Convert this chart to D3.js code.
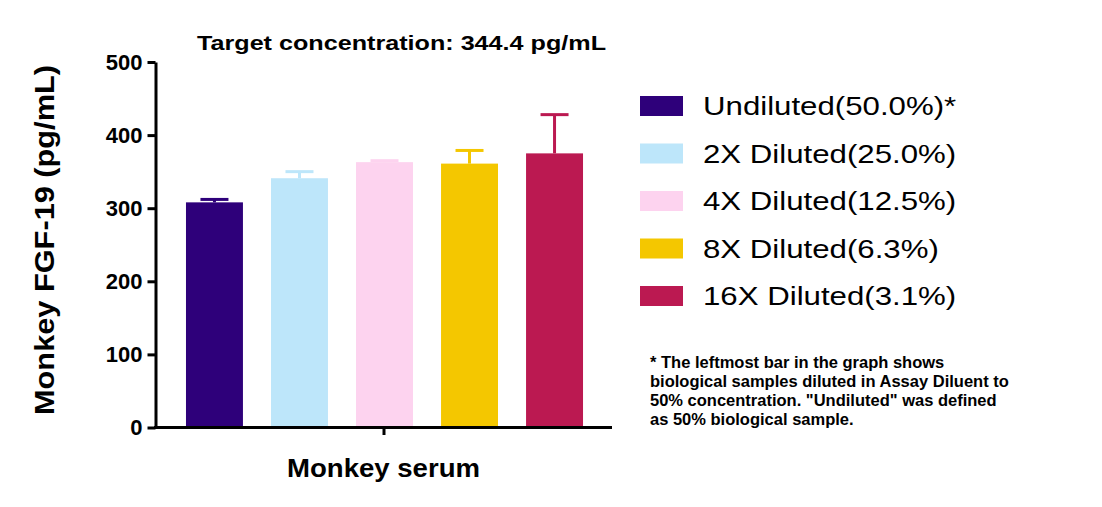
<!DOCTYPE html><html><head><script src="https://cdn.jsdelivr.net/npm/d3@7"></script>
<style>body{margin:0;background:#fff}text{font-family:Arial,"Liberation Sans",sans-serif}</style></head><body>
<svg id="c" width="1102" height="507"></svg>
<script>
const categories=["Undiluted(50.0%)*","2X Diluted(25.0%)","4X Diluted(12.5%)","8X Diluted(6.3%)","16X Diluted(3.1%)"];
const values=[308,341,363,361,375];
const errors=[4,9,2,18,53];
const colors=["#2e007a","#bde6fa","#fdd3ef","#f4c700","#bb1951"];
const yTicks=[0,100,200,300,400,500];
const svg=d3.select("#c");
const y=d3.scaleLinear().domain([0,500]).range([427.5,62]);
const x=d3.scaleBand().domain(categories).range([157.5,611.5]).paddingInner(0.33).paddingOuter(0.335);
const g=svg.append("g");
g.selectAll("rect.b").data(values).join("rect").attr("x",(d,i)=>x(categories[i])).attr("width",x.bandwidth())
 .attr("y",d=>y(d)).attr("height",d=>y(0)-y(d)).attr("fill",(d,i)=>colors[i]);
values.forEach((v,i)=>{const cx=x(categories[i])+x.bandwidth()/2;
 g.append("line").attr("x1",cx).attr("x2",cx).attr("y1",y(v)).attr("y2",y(v+errors[i])).attr("stroke",colors[i]).attr("stroke-width",3);
 g.append("line").attr("x1",cx-14).attr("x2",cx+14).attr("y1",y(v+errors[i])).attr("y2",y(v+errors[i])).attr("stroke",colors[i]).attr("stroke-width",3);});
const ya=svg.append("g").attr("transform","translate(155.5,0)").call(d3.axisLeft(y).tickValues(yTicks).tickSize(8).tickSizeOuter(0));
ya.select(".domain").attr("stroke-width",3);ya.selectAll("line").attr("stroke-width",3);
ya.selectAll("text").attr("font-size",22).attr("font-weight","bold").attr("fill","#000").attr("dx","-2");
svg.append("line").attr("x1",154).attr("x2",612).attr("y1",427.5).attr("y2",427.5).attr("stroke","#000").attr("stroke-width",3);
svg.append("line").attr("x1",384).attr("x2",384).attr("y1",427.5).attr("y2",435).attr("stroke","#000").attr("stroke-width",3);
svg.append("text").attr("x",287).attr("y",477).attr("font-size",25).attr("font-weight","bold").attr("textLength",193).attr("lengthAdjust","spacingAndGlyphs").text("Monkey serum");
svg.append("text").attr("x",197).attr("y",50).attr("font-size",21).attr("font-weight","bold").attr("textLength",409).attr("lengthAdjust","spacingAndGlyphs").text("Target concentration: 344.4 pg/mL");
svg.append("text").attr("transform","translate(54,415) rotate(-90)").attr("font-size",27).attr("font-weight","bold").attr("textLength",350).attr("lengthAdjust","spacingAndGlyphs").text("Monkey FGF-19 (pg/mL)");
const lg=svg.append("g");
const lw=[245,245,245,230,245];
categories.forEach((c,i)=>{const yy=106+i*47.5;
 lg.append("rect").attr("x",640).attr("y",yy-10).attr("width",43).attr("height",20).attr("fill",colors[i]);
 const t=lg.append("text").attr("x",703).attr("y",yy+9).attr("font-size",26).text(c);
 const w=t.node().getComputedTextLength();t.attr("textLength",w*1.2).attr("lengthAdjust","spacingAndGlyphs");});
const notes=["* The leftmost bar in the graph shows","biological samples diluted in Assay Diluent to","50% concentration. \"Undiluted\" was defined","as 50% biological sample."];
notes.forEach((t,i)=>svg.append("text").attr("x",650).attr("y",368+i*19).attr("font-size",16.5).attr("font-weight","bold").text(t));
</script></body></html>
